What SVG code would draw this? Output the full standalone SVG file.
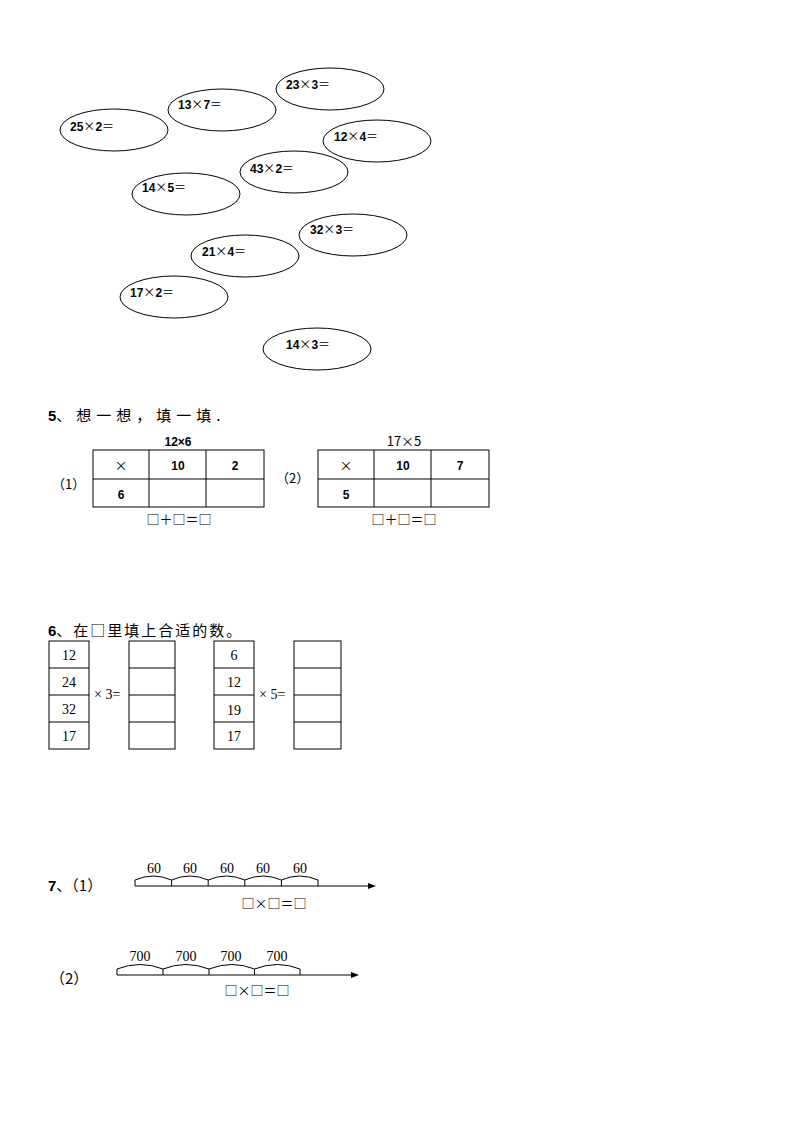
<svg xmlns="http://www.w3.org/2000/svg" width="794" height="1123" viewBox="0 0 794 1123">
<style>
.e{fill:none;stroke:#000;stroke-width:1}
.t{font-family:"Liberation Sans","Noto Sans CJK SC",sans-serif;font-size:12px;font-weight:bold}
.k{font-family:"Noto Sans CJK SC",sans-serif;font-weight:normal}
.h{font-family:"Liberation Sans","Noto Sans CJK SC",sans-serif;font-size:15px}
.s{font-family:"Liberation Serif","Noto Sans CJK SC",serif;font-size:14px}
.c{font-family:"Noto Sans CJK SC",sans-serif;font-size:13px}
.b{fill:none;stroke:#000;stroke-width:1}
</style>
<rect width="794" height="1123" fill="#fff"/>
<g id="ellipses">
<g id="e1"><ellipse class="e" cx="114" cy="130" rx="54" ry="21"/><text class="t" x="70" y="131">25<tspan class="k">×</tspan>2<tspan class="k">＝</tspan></text></g>
<g id="e2"><ellipse class="e" cx="222" cy="110" rx="54" ry="21"/><text class="t" x="178" y="109">13<tspan class="k">×</tspan>7<tspan class="k">＝</tspan></text></g>
<g id="e3"><ellipse class="e" cx="330" cy="89" rx="54" ry="21"/><text class="t" x="286" y="89">23<tspan class="k">×</tspan>3<tspan class="k">＝</tspan></text></g>
<g id="e4"><ellipse class="e" cx="377" cy="141" rx="54" ry="21"/><text class="t" x="334" y="141">12<tspan class="k">×</tspan>4<tspan class="k">＝</tspan></text></g>
<g id="e5"><ellipse class="e" cx="294" cy="172" rx="54" ry="21"/><text class="t" x="250" y="173">43<tspan class="k">×</tspan>2<tspan class="k">＝</tspan></text></g>
<g id="e6"><ellipse class="e" cx="186" cy="194" rx="54" ry="21"/><text class="t" x="142" y="192">14<tspan class="k">×</tspan>5<tspan class="k">＝</tspan></text></g>
<g id="e7"><ellipse class="e" cx="353" cy="235" rx="54" ry="21"/><text class="t" x="310" y="234">32<tspan class="k">×</tspan>3<tspan class="k">＝</tspan></text></g>
<g id="e8"><ellipse class="e" cx="245" cy="256" rx="54" ry="21"/><text class="t" x="202" y="256">21<tspan class="k">×</tspan>4<tspan class="k">＝</tspan></text></g>
<g id="e9"><ellipse class="e" cx="174" cy="297" rx="54" ry="21"/><text class="t" x="130" y="297">17<tspan class="k">×</tspan>2<tspan class="k">＝</tspan></text></g>
<g id="e10"><ellipse class="e" cx="317" cy="349" rx="54" ry="21"/><text class="t" x="286" y="349">14<tspan class="k">×</tspan>3<tspan class="k">＝</tspan></text></g>
</g>
<g id="sec5">
<text class="h" x="48" y="421"><tspan font-weight="bold">5</tspan><tspan class="k" letter-spacing="5">、想一想，填一填.</tspan></text>
<text class="t" x="178" y="446" text-anchor="middle">12×6</text>
<text class="c" x="404" y="446" text-anchor="middle">17×5</text>
<text class="c" x="52" y="489">（1）</text>
<text class="c" x="276" y="483">（2）</text>
<g id="table1">
<rect class="b" x="93" y="450" width="171" height="57"/>
<line class="b" x1="149" y1="450" x2="149" y2="507"/><line class="b" x1="206" y1="450" x2="206" y2="507"/><line class="b" x1="93" y1="479" x2="264" y2="479"/>
<text class="c" x="121" y="470" text-anchor="middle">×</text>
<text class="t" x="178" y="470" text-anchor="middle">10</text>
<text class="t" x="235" y="470" text-anchor="middle">2</text>
<text class="t" x="121" y="499" text-anchor="middle">6</text>
</g>
<g id="table2">
<rect class="b" x="318" y="450" width="171" height="57"/>
<line class="b" x1="374" y1="450" x2="374" y2="507"/><line class="b" x1="431" y1="450" x2="431" y2="507"/><line class="b" x1="318" y1="479" x2="489" y2="479"/>
<text class="c" x="346" y="470" text-anchor="middle">×</text>
<text class="t" x="403" y="470" text-anchor="middle">10</text>
<text class="t" x="460" y="470" text-anchor="middle">7</text>
<text class="t" x="346" y="499" text-anchor="middle">5</text>
</g>
<text class="c" x="179" y="524" text-anchor="middle">□＋□＝□</text>
<text class="c" x="404" y="524" text-anchor="middle">□＋□＝□</text>
</g>
<g id="sec6">
<text class="h" x="48" y="636"><tspan font-weight="bold">6</tspan><tspan class="k" letter-spacing="2">、在□里填上合适的数。</tspan></text>
<g id="box1"><rect class="b" x="49" y="641" width="40" height="108"/><line class="b" x1="49" y1="668" x2="89" y2="668"/><line class="b" x1="49" y1="695" x2="89" y2="695"/><line class="b" x1="49" y1="722" x2="89" y2="722"/>
<text class="s" x="69" y="660" text-anchor="middle">12</text><text class="s" x="69" y="687" text-anchor="middle">24</text><text class="s" x="69" y="714" text-anchor="middle">32</text><text class="s" x="69" y="741" text-anchor="middle">17</text></g>
<text class="s" x="94" y="699" font-size="13">× 3=</text>
<g id="box2"><rect class="b" x="129" y="641" width="46" height="108"/><line class="b" x1="129" y1="668" x2="175" y2="668"/><line class="b" x1="129" y1="695" x2="175" y2="695"/><line class="b" x1="129" y1="722" x2="175" y2="722"/></g>
<g id="box3"><rect class="b" x="214" y="641" width="40" height="108"/><line class="b" x1="214" y1="668" x2="254" y2="668"/><line class="b" x1="214" y1="695" x2="254" y2="695"/><line class="b" x1="214" y1="722" x2="254" y2="722"/>
<text class="s" x="234" y="660" text-anchor="middle">6</text><text class="s" x="234" y="687" text-anchor="middle">12</text><text class="s" x="234" y="715" text-anchor="middle">19</text><text class="s" x="234" y="741" text-anchor="middle">17</text></g>
<text class="s" x="259" y="699" font-size="13">× 5=</text>
<g id="box4"><rect class="b" x="294" y="641" width="47" height="108"/><line class="b" x1="294" y1="668" x2="341" y2="668"/><line class="b" x1="294" y1="695" x2="341" y2="695"/><line class="b" x1="294" y1="722" x2="341" y2="722"/></g>
</g>
<g id="sec7">
<text class="h" x="48" y="891"><tspan font-weight="bold">7</tspan><tspan class="k">、（1）</tspan></text>
<line class="b" x1="135" y1="886" x2="370" y2="886"/>
<polygon points="376,886 368,883 368,889" fill="#000"/>
<path class="b" d="M135,886 v-6 q18,-8 36.6,0 q18,-8 36.6,0 q18,-8 36.6,0 q18,-8 36.6,0 q18,-8 36.6,0 v6 M171.6,880 v6 M208.2,880 v6 M244.8,880 v6 M281.4,880 v6"/>
<g class="s" font-size="16" text-anchor="middle"><text x="154" y="873">60</text><text x="190" y="873">60</text><text x="227" y="873">60</text><text x="263" y="873">60</text><text x="300" y="873">60</text></g>
<text class="c" x="274" y="908" text-anchor="middle">□×□＝□</text>
<text class="h" x="50" y="984"><tspan class="k">（2）</tspan></text>
<line class="b" x1="117" y1="975" x2="353" y2="975"/>
<polygon points="359,975 351,972 351,978" fill="#000"/>
<path class="b" d="M117,975 v-6 q23,-9 46,0 q23,-9 46,0 q23,-9 45.5,0 q23,-9 45.5,0 v6 M163,969 v6 M209,969 v6 M254.5,969 v6"/>
<g class="s" font-size="16" text-anchor="middle"><text x="140" y="961">700</text><text x="186" y="961">700</text><text x="231" y="961">700</text><text x="277" y="961">700</text></g>
<text class="c" x="257" y="995" text-anchor="middle">□×□＝□</text>
</g>
</svg>
